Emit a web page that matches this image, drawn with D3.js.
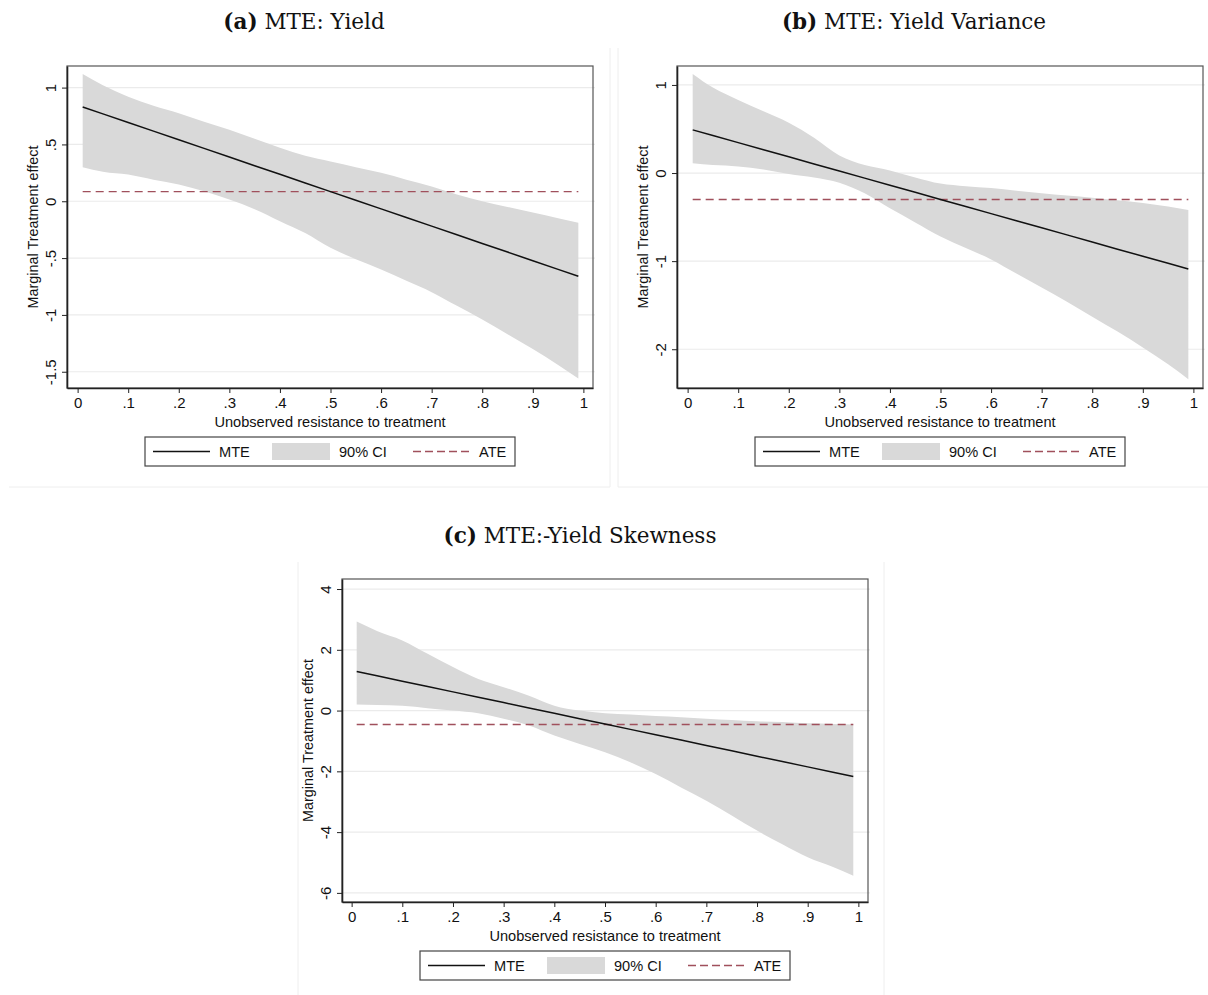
<!DOCTYPE html>
<html>
<head>
<meta charset="utf-8">
<script src="https://cdn.jsdelivr.net/npm/d3@7"></script>
<style>
  body { margin: 0; background: #fff; }
  .tick text { font-family: "Liberation Sans", Arial, sans-serif; }
</style>
</head>
<body>
<script>
// grid of points on the unobserved resistance axis
var uGrid = [0.01, 0.05, 0.1, 0.15, 0.2, 0.25, 0.3, 0.35, 0.4, 0.45, 0.5,
             0.55, 0.6, 0.65, 0.7, 0.75, 0.8, 0.85, 0.9, 0.95, 0.99];

// (a) Yield
var yieldMTE   = [0.83, 0.769, 0.693, 0.617, 0.541, 0.465, 0.389, 0.313, 0.237, 0.161, 0.085,
                  0.009, -0.067, -0.143, -0.219, -0.295, -0.371, -0.447, -0.523, -0.599, -0.66];
var yieldUpper = [1.12, 1.02, 0.92, 0.84, 0.775, 0.70, 0.63, 0.55, 0.47, 0.40, 0.35,
                  0.30, 0.25, 0.19, 0.13, 0.06, 0.0, -0.05, -0.10, -0.15, -0.19];
var yieldLower = [0.30, 0.26, 0.235, 0.19, 0.147, 0.088, 0.015, -0.07, -0.175, -0.28, -0.41,
                  -0.51, -0.60, -0.70, -0.80, -0.92, -1.04, -1.17, -1.30, -1.44, -1.56];
var yieldATE = 0.085;

// (b) Yield variance
var varMTE   = [0.49, 0.426, 0.345, 0.264, 0.184, 0.103, 0.023, -0.058, -0.138, -0.219, -0.30,
                -0.38, -0.461, -0.541, -0.622, -0.702, -0.783, -0.864, -0.944, -1.025, -1.09];
var varUpper = [1.125, 0.97, 0.83, 0.70, 0.57, 0.40, 0.20, 0.09, 0.03, -0.05, -0.12,
                -0.15, -0.17, -0.20, -0.23, -0.255, -0.28, -0.31, -0.34, -0.38, -0.42];
var varLower = [0.11, 0.09, 0.075, 0.04, -0.01, -0.05, -0.11, -0.23, -0.40, -0.56, -0.72,
                -0.85, -0.98, -1.14, -1.30, -1.46, -1.63, -1.80, -1.98, -2.17, -2.34];
var varATE = -0.30;

// (c) Yield skewness
var skewMTE   = [1.285, 1.144, 0.968, 0.792, 0.615, 0.439, 0.263, 0.086, -0.09, -0.266, -0.443,
                 -0.619, -0.795, -0.972, -1.148, -1.324, -1.501, -1.677, -1.853, -2.03, -2.17];
var skewUpper = [2.93, 2.62, 2.31, 1.87, 1.43, 1.04, 0.77, 0.49, 0.16, 0.0, -0.09,
                 -0.13, -0.18, -0.22, -0.27, -0.31, -0.35, -0.38, -0.42, -0.44, -0.46];
var skewLower = [0.2, 0.18, 0.16, 0.08, 0.0, -0.09, -0.27, -0.49, -0.82, -1.1, -1.37,
                 -1.7, -2.09, -2.53, -2.97, -3.45, -3.95, -4.4, -4.83, -5.15, -5.44];
var skewATE = -0.46;

// tick labels
var xTicks = [0, 0.1, 0.2, 0.3, 0.4, 0.5, 0.6, 0.7, 0.8, 0.9, 1];
var xTickLabels = ["0", ".1", ".2", ".3", ".4", ".5", ".6", ".7", ".8", ".9", "1"];
var yTicksA = [-1.5, -1, -0.5, 0, 0.5, 1];
var yTickLabelsA = ["-1.5", "-1", "-.5", "0", ".5", "1"];
var yTicksB = [-2, -1, 0, 1];
var yTickLabelsB = ["-2", "-1", "0", "1"];
var yTicksC = [-6, -4, -2, 0, 2, 4];
var yTickLabelsC = ["-6", "-4", "-2", "0", "2", "4"];

var legendLabels = ["MTE", "90% CI", "ATE"];

var sans = "'Liberation Sans', Arial, sans-serif";
var serif = "'DejaVu Serif', 'Liberation Serif', serif";
var bandColor = "#d9d9d9";
var ateColor = "#a0505c";
var frameColor = "#555";

var svg = d3.select("body").append("svg")
  .attr("width", 1208)
  .attr("height", 995);

svg.append("rect").attr("width", 1208).attr("height", 995).attr("fill", "#fff");

// faint panel borders
var faint = "#eeeeee";
svg.append("line").attr("x1", 610).attr("x2", 610).attr("y1", 48).attr("y2", 487).attr("stroke", faint);
svg.append("line").attr("x1", 9).attr("x2", 610).attr("y1", 487).attr("y2", 487).attr("stroke", faint);
svg.append("line").attr("x1", 618).attr("x2", 618).attr("y1", 48).attr("y2", 487).attr("stroke", faint);
svg.append("line").attr("x1", 618).attr("x2", 1208).attr("y1", 487).attr("y2", 487).attr("stroke", faint);
svg.append("line").attr("x1", 884).attr("x2", 884).attr("y1", 562).attr("y2", 995).attr("stroke", faint);
svg.append("line").attr("x1", 298).attr("x2", 298).attr("y1", 562).attr("y2", 995).attr("stroke", faint);

function title(x, y, tag, rest) {
  var t = svg.append("text")
    .attr("x", x).attr("y", y)
    .attr("text-anchor", "middle")
    .attr("font-family", serif)
    .attr("font-size", 21.5)
    .attr("fill", "#111");
  t.append("tspan").attr("font-weight", "bold").text(tag);
  t.append("tspan").text(" " + rest);
}

title(304, 29, "(a)", "MTE: Yield");
title(914, 29, "(b)", "MTE: Yield Variance");
title(580, 543, "(c)", "MTE:-Yield Skewness");

function panel(cfg) {
  var g = svg.append("g");
  var x = d3.scaleLinear().domain(cfg.xDomain).range([cfg.left, cfg.right]);
  var y = d3.scaleLinear().domain(cfg.yDomain).range([cfg.bottom, cfg.top]);

  // gridlines
  g.selectAll(".grid").data(cfg.yTicks).enter().append("line")
    .attr("x1", cfg.left).attr("x2", cfg.right + 2)
    .attr("y1", d => y(d)).attr("y2", d => y(d))
    .attr("stroke", "#ebebeb").attr("stroke-width", 1.2);

  var rows = uGrid.map((u, i) => ({ u: u, mte: cfg.mte[i], hi: cfg.upper[i], lo: cfg.lower[i] }));

  // CI band
  g.append("path")
    .datum(rows)
    .attr("fill", bandColor)
    .attr("d", d3.area().curve(d3.curveMonotoneX)
      .x(d => x(d.u)).y0(d => y(d.lo)).y1(d => y(d.hi)));

  // ATE
  g.append("line")
    .attr("x1", x(uGrid[0])).attr("x2", x(uGrid[uGrid.length - 1]))
    .attr("y1", y(cfg.ate)).attr("y2", y(cfg.ate))
    .attr("stroke", ateColor).attr("stroke-width", 1.4)
    .attr("stroke-dasharray", "8,5");

  // MTE line
  g.append("path")
    .datum(rows)
    .attr("fill", "none")
    .attr("stroke", "#111")
    .attr("stroke-width", 1.5)
    .attr("d", d3.line().x(d => x(d.u)).y(d => y(d.mte)));

  // frame
  g.append("rect")
    .attr("x", cfg.left).attr("y", cfg.top)
    .attr("width", cfg.right - cfg.left).attr("height", cfg.bottom - cfg.top)
    .attr("fill", "none").attr("stroke", frameColor).attr("stroke-width", 1.2);

  // axes
  var xAxis = d3.axisBottom(x).tickValues(xTicks)
    .tickFormat((d, i) => xTickLabels[i]).tickSize(5).tickSizeOuter(0).tickPadding(4);
  var gx = g.append("g").attr("transform", `translate(0,${cfg.bottom})`).call(xAxis);
  gx.select(".domain").attr("stroke", "#222").attr("stroke-width", 1.6);
  gx.selectAll(".tick line").attr("stroke", "#222");
  gx.selectAll(".tick text").attr("font-size", 15).attr("fill", "#111");

  var yAxis = d3.axisLeft(y).tickValues(cfg.yTicks)
    .tickFormat((d, i) => cfg.yLabels[i]).tickSize(5).tickSizeOuter(0);
  var gy = g.append("g").attr("transform", `translate(${cfg.left},0)`).call(yAxis);
  gy.select(".domain").attr("stroke", "#222").attr("stroke-width", 1.6);
  gy.selectAll(".tick line").attr("stroke", "#222");
  gy.selectAll(".tick text")
    .attr("font-size", 15).attr("fill", "#111")
    .attr("x", null).attr("dy", null)
    .attr("text-anchor", "middle")
    .attr("transform", "translate(-16,0) rotate(-90)")
    .attr("y", 0).attr("dy", "0.35em");

  // axis titles
  g.append("text")
    .attr("x", (cfg.left + cfg.right) / 2).attr("y", cfg.bottom + 39)
    .attr("text-anchor", "middle")
    .attr("font-family", sans).attr("font-size", 14.6).attr("fill", "#111")
    .text("Unobserved resistance to treatment");

  g.append("text")
    .attr("transform", `translate(${cfg.left - 29},${(cfg.top + cfg.bottom) / 2}) rotate(-90)`)
    .attr("text-anchor", "middle")
    .attr("font-family", sans).attr("font-size", 14.4).attr("fill", "#111")
    .text("Marginal Treatment effect");

  // legend
  var lw = 370, lh = 29;
  var lx = (cfg.left + cfg.right) / 2 - lw / 2;
  var ly = cfg.bottom + 49;
  var lg = g.append("g").attr("transform", `translate(${lx},${ly})`);
  lg.append("rect").attr("width", lw).attr("height", lh)
    .attr("fill", "#fff").attr("stroke", "#444").attr("stroke-width", 1.2);
  lg.append("line").attr("x1", 8).attr("x2", 65).attr("y1", lh / 2).attr("y2", lh / 2)
    .attr("stroke", "#111").attr("stroke-width", 1.4);
  lg.append("rect").attr("x", 127).attr("y", 6).attr("width", 58).attr("height", lh - 12)
    .attr("fill", bandColor);
  lg.append("line").attr("x1", 268).attr("x2", 325).attr("y1", lh / 2).attr("y2", lh / 2)
    .attr("stroke", ateColor).attr("stroke-width", 1.4).attr("stroke-dasharray", "8,4");
  lg.selectAll(".lt").data(legendLabels).enter().append("text")
    .attr("x", (d, i) => [74, 194, 334][i])
    .attr("y", lh / 2).attr("dy", "0.36em")
    .attr("font-family", sans).attr("font-size", 14.6).attr("fill", "#111")
    .text(d => d);
}

panel({
  left: 67, right: 593, top: 66, bottom: 388,
  xDomain: [-0.021, 1.019], yDomain: [-1.643, 1.19],
  yTicks: yTicksA, yLabels: yTickLabelsA,
  mte: yieldMTE, upper: yieldUpper, lower: yieldLower, ate: yieldATE
});

panel({
  left: 677, right: 1203, top: 66, bottom: 388,
  xDomain: [-0.021, 1.019], yDomain: [-2.44, 1.215],
  yTicks: yTicksB, yLabels: yTickLabelsB,
  mte: varMTE, upper: varUpper, lower: varLower, ate: varATE
});

panel({
  left: 342, right: 868, top: 579, bottom: 902,
  xDomain: [-0.019, 1.019], yDomain: [-6.3, 4.33],
  yTicks: yTicksC, yLabels: yTickLabelsC,
  mte: skewMTE, upper: skewUpper, lower: skewLower, ate: skewATE
});
</script>
</body>
</html>
